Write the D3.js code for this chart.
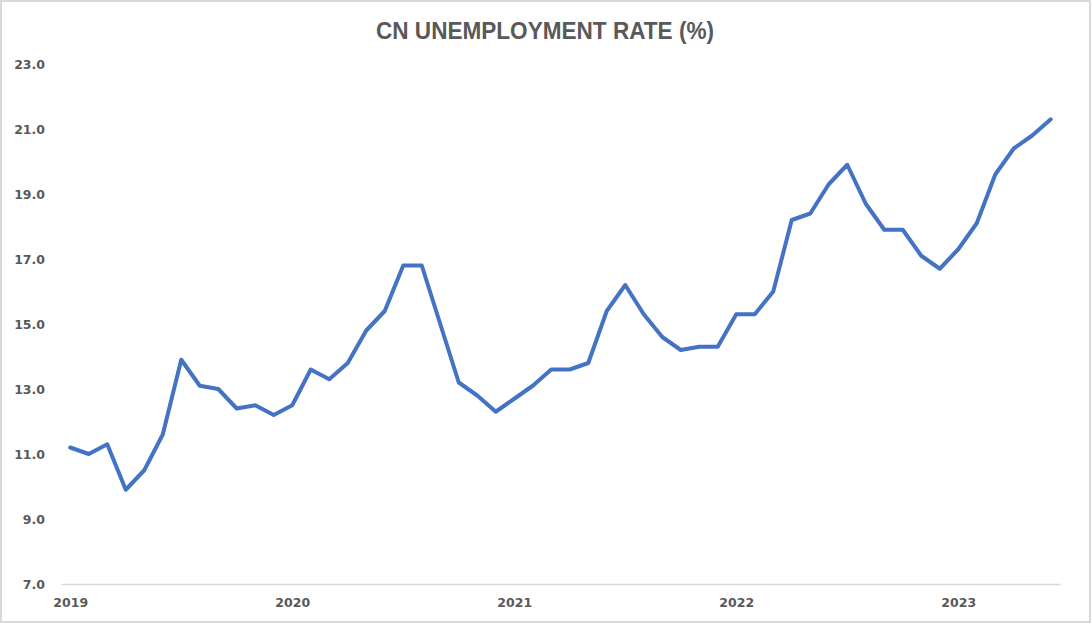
<!DOCTYPE html>
<html>
<head>
<meta charset="utf-8">
<title>CN Unemployment Rate</title>
<script src="https://cdn.jsdelivr.net/npm/d3@7"></script>
<style>
	html, body { margin: 0; padding: 0; background: #fff; }
	svg { display: block; }
</style>
</head>
<body>
<svg id="chart"></svg>
<script>
var months = [
	'2019-01', '2019-02', '2019-03', '2019-04', '2019-05', '2019-06', '2019-07', '2019-08', '2019-09', '2019-10', '2019-11', '2019-12',
	'2020-01', '2020-02', '2020-03', '2020-04', '2020-05', '2020-06', '2020-07', '2020-08', '2020-09', '2020-10', '2020-11', '2020-12',
	'2021-01', '2021-02', '2021-03', '2021-04', '2021-05', '2021-06', '2021-07', '2021-08', '2021-09', '2021-10', '2021-11', '2021-12',
	'2022-01', '2022-02', '2022-03', '2022-04', '2022-05', '2022-06', '2022-07', '2022-08', '2022-09', '2022-10', '2022-11', '2022-12',
	'2023-01', '2023-02', '2023-03', '2023-04', '2023-05', '2023-06'
];

var rates = [
	11.2, 11.0, 11.3, 9.9, 10.5, 11.6, 13.9, 13.1, 13.0, 12.4, 12.5, 12.2,
	12.5, 13.6, 13.3, 13.8, 14.8, 15.4, 16.8, 16.8, 15.0, 13.2, 12.8, 12.3,
	12.7, 13.1, 13.6, 13.6, 13.8, 15.4, 16.2, 15.3, 14.6, 14.2, 14.3, 14.3,
	15.3, 15.3, 16.0, 18.2, 18.4, 19.3, 19.9, 18.7, 17.9, 17.9, 17.1, 16.7,
	17.3, 18.1, 19.6, 20.4, 20.8, 21.3
];

var yearTicks = ['2019-01', '2020-01', '2021-01', '2022-01', '2023-01'];
var yTicks = [7, 9, 11, 13, 15, 17, 19, 21, 23];

(function () {
	var width = 1092, height = 624;
	var svg = d3.select('#chart')
		.attr('width', width)
		.attr('height', height);

	// frame
	svg.append('rect')
		.attr('x', 1)
		.attr('y', 1)
		.attr('width', 1089)
		.attr('height', 621)
		.attr('fill', '#fff')
		.attr('stroke', '#d9d9d9')
		.attr('stroke-width', 2);

	var x = d3.scalePoint()
		.domain(months)
		.range([61, 1060])
		.padding(0.5);

	var y = d3.scaleLinear()
		.domain([7, 23])
		.range([584, 64]);

	svg.append('text')
		.attr('x', 545)
		.attr('y', 38.5)
		.attr('text-anchor', 'middle')
		.attr('textLength', 338)
		.attr('lengthAdjust', 'spacingAndGlyphs')
		.style('font-family', '"Liberation Sans Narrow", "Liberation Sans", Arial, sans-serif')
		.style('font-weight', 'bold')
		.style('font-size', '23.5px')
		.style('fill', '#595959')
		.text('CN UNEMPLOYMENT RATE (%)');

	// y axis (labels only)
	var yAxis = svg.append('g')
		.attr('transform', 'translate(50,0)')
		.call(d3.axisLeft(y)
			.tickValues(yTicks)
			.tickFormat(d3.format('.1f'))
			.tickSize(0)
			.tickPadding(5));
	yAxis.select('.domain').remove();
	yAxis.selectAll('text')
		.style('font-family', '"DejaVu Sans", Verdana, sans-serif')
		.style('font-weight', 'bold')
		.style('font-size', '12.5px')
		.style('fill', '#595959');

	// x axis
	var xAxis = svg.append('g')
		.attr('transform', 'translate(0,' + y(7) + ')')
		.call(d3.axisBottom(x)
			.tickValues(yearTicks)
			.tickFormat(function (d) { return d.slice(0, 4); })
			.tickSize(0)
			.tickPadding(14));
	xAxis.select('.domain')
		.attr('stroke', '#d9d9d9')
		.attr('stroke-width', 1.5);
	xAxis.selectAll('text')
		.style('font-family', '"DejaVu Sans", Verdana, sans-serif')
		.style('font-weight', 'bold')
		.style('font-size', '12.5px')
		.style('fill', '#595959');

	var line = d3.line()
		.x(function (d, i) { return x(months[i]); })
		.y(function (d) { return y(d); });

	svg.append('path')
		.datum(rates)
		.attr('d', line)
		.attr('fill', 'none')
		.attr('stroke', '#4472c4')
		.attr('stroke-width', 4)
		.attr('stroke-linejoin', 'round')
		.attr('stroke-linecap', 'round');
}());
</script>
</body>
</html>
